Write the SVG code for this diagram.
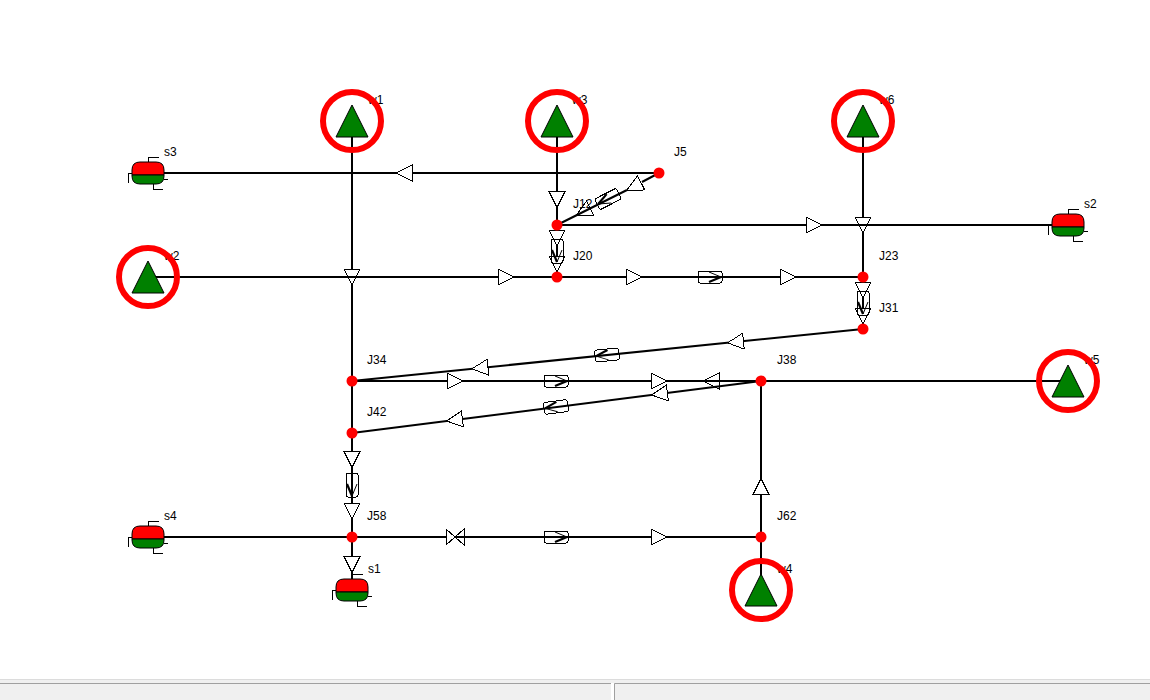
<svg xmlns="http://www.w3.org/2000/svg" width="1150" height="700" viewBox="0 0 1150 700">
<style>
text{font-family:"Liberation Sans",Arial,sans-serif;font-size:12px;fill:#000}
.l{fill:none;stroke:#000;stroke-width:2}
.t{fill:#fff;stroke:#000;stroke-width:1;shape-rendering:crispEdges}
.p{fill:none;stroke:#000;stroke-width:1;shape-rendering:crispEdges}
.c{fill:none;stroke:#000;stroke-width:1}
.d{fill:none;stroke:#000;stroke-width:2.2}
.j{fill:#f00;stroke:none}
.ring{fill:none;stroke:#f00;stroke-width:6}
.g{fill:#008000;stroke:#000;stroke-width:1}
.th{fill:none;stroke:#000;stroke-width:1;shape-rendering:crispEdges}
</style>
<defs>
<polygon id="tri" class="t" points="-8,-8 8,0 -8,8"/>
<g id="pump"><rect class="p" x="-12" y="-6" width="24" height="12" rx="2"/><path class="c" d="M-1,-5 L11,0"/><path class="d" d="M11,0 L-1,5"/></g>
<g id="tank">
<path d="M-16,2 V-3 Q-16,-11 -8,-11 H8 Q16,-11 16,-3 V2 Z" fill="#f00" stroke="#000"/>
<path d="M-16,2 V3 Q-16,11 -8,11 H8 Q16,11 16,3 V2 Z" fill="#008000" stroke="#000"/>
<path class="th" d="M0,-11 V-16 H11 M-16,0 H-20 V10 M16,6 H20 M5,11 V16 H15"/>
</g>
<g id="well"><polygon class="g" points="0,-16 16,16 -16,16"/><circle class="ring" cx="0" cy="0" r="29"/></g>
</defs>
<rect width="1150" height="700" fill="#fff"/>
<rect y="680" width="1150" height="20" fill="#f0f0f0"/>
<path d="M0,679.5 H1150" stroke="#dcdcdc" fill="none"/>
<path d="M0,683.5 H611 M614.5,700 V683.5 H1150" stroke="#a0a0a0" fill="none"/>
<rect x="611" y="683" width="3" height="17" fill="#fff"/>

<g id="connectors">
<path class="l" d="M164,173 H659"/>
<use href="#tri" transform="translate(404,173) rotate(180)"/>
<path class="l" d="M352,137 V537"/>
<use href="#tri" transform="translate(352,277) rotate(90)"/>
<path class="l" d="M148,277 H557"/>
<use href="#tri" transform="translate(506,277)"/>
<path class="l" d="M557,137 V225"/>
<use href="#tri" transform="translate(557,199.5) rotate(90)"/>
<use href="#tri" transform="translate(634,186.5) rotate(153)"/>
<use href="#tri" transform="translate(583,212) rotate(153)"/>
<path class="l" d="M659,173 L642,182 M627,190 L557,225"/>
<use href="#pump" transform="translate(608,199) rotate(153)"/>
<path class="l" d="M557,225 V277"/>
<use href="#tri" transform="translate(557,238) rotate(90)"/>
<use href="#tri" transform="translate(557,264) rotate(90)"/>
<use href="#pump" transform="translate(557,251) rotate(90)"/>
<path class="l" d="M863,137 V277"/>
<use href="#tri" transform="translate(863,225) rotate(90)"/>
<path class="l" d="M557,225 H1052"/>
<use href="#tri" transform="translate(814,225)"/>
<path class="l" d="M557,277 H863"/>
<use href="#tri" transform="translate(634,277)"/>
<use href="#pump" transform="translate(710,277)"/>
<use href="#tri" transform="translate(788,277)"/>
<path class="l" d="M863,277 V329"/>
<use href="#tri" transform="translate(863,290) rotate(90)"/>
<use href="#tri" transform="translate(863,316) rotate(90)"/>
<use href="#pump" transform="translate(863,303) rotate(90)"/>
<path class="l" d="M863,329 L352,381"/>
<use href="#tri" transform="translate(735.5,342) rotate(174.2)"/>
<use href="#pump" transform="translate(607,355) rotate(174.2)"/>
<use href="#tri" transform="translate(480,368) rotate(174.2)"/>
<use href="#tri" transform="translate(711,381) rotate(180)"/>
<path class="l" d="M352,381 H1068"/>
<use href="#tri" transform="translate(455,381)"/>
<use href="#pump" transform="translate(556,381)"/>
<use href="#tri" transform="translate(659,381)"/>
<path class="l" d="M761,381 L352,433"/>
<use href="#tri" transform="translate(659.5,394) rotate(172.8)"/>
<use href="#pump" transform="translate(556,407) rotate(172.8)"/>
<use href="#tri" transform="translate(454.5,420) rotate(172.8)"/>
<path class="l" d="M761,576 V381"/>
<use href="#tri" transform="translate(761,486.5) rotate(-90)"/>
<path class="l" d="M352,433 V537"/>
<use href="#tri" transform="translate(352,459.5) rotate(90)"/>
<use href="#pump" transform="translate(352,485) rotate(90)"/>
<use href="#tri" transform="translate(352,511) rotate(90)"/>
<path class="l" d="M352,537 V579"/>
<use href="#tri" transform="translate(352,564.5) rotate(90)"/>
<polygon class="t" points="446,529 464,545 464,529 446,545"/>
<path class="l" d="M164,537 H446 M455,537 H761"/>
<use href="#pump" transform="translate(556,537)"/>
<use href="#tri" transform="translate(659,537)"/>
</g>

<g id="J5"><circle class="j" cx="659" cy="173" r="5.5"/><text x="674" y="156">J5</text></g>
<g id="J12"><circle class="j" cx="557" cy="225" r="5.5"/><text x="573" y="208">J12</text></g>
<g id="J20"><circle class="j" cx="557" cy="277" r="5.5"/><text x="573" y="260">J20</text></g>
<g id="J23"><circle class="j" cx="863" cy="277" r="5.5"/><text x="879" y="260">J23</text></g>
<g id="J31"><circle class="j" cx="863" cy="329" r="5.5"/><text x="879" y="312">J31</text></g>
<g id="J34"><circle class="j" cx="352" cy="381" r="5.5"/><text x="367" y="364">J34</text></g>
<g id="J38"><circle class="j" cx="761" cy="381" r="5.5"/><text x="777" y="364">J38</text></g>
<g id="J42"><circle class="j" cx="352" cy="433" r="5.5"/><text x="367" y="416">J42</text></g>
<g id="J58"><circle class="j" cx="352" cy="537" r="5.5"/><text x="367" y="520">J58</text></g>
<g id="J62"><circle class="j" cx="761" cy="537" r="5.5"/><text x="777" y="520">J62</text></g>

<g id="s1"><use href="#tank" x="352" y="590"/><text x="368" y="573">s1</text></g>
<g id="s2"><use href="#tank" x="1068" y="225"/><text x="1084" y="208">s2</text></g>
<g id="s3"><use href="#tank" x="148" y="173"/><text x="164" y="156">s3</text></g>
<g id="s4"><use href="#tank" x="148" y="537"/><text x="164" y="520">s4</text></g>

<g id="w1"><text x="368" y="104">w1</text><use href="#well" x="352" y="121"/></g>
<g id="w2"><text x="164" y="260">w2</text><use href="#well" x="148" y="277"/></g>
<g id="w3"><text x="572" y="104">w3</text><use href="#well" x="557" y="121"/></g>
<g id="w4"><text x="777" y="573">w4</text><use href="#well" x="761" y="590"/></g>
<g id="w5"><text x="1084" y="364">w5</text><use href="#well" x="1068" y="381"/></g>
<g id="w6"><text x="879" y="104">w6</text><use href="#well" x="863" y="121"/></g>
</svg>
